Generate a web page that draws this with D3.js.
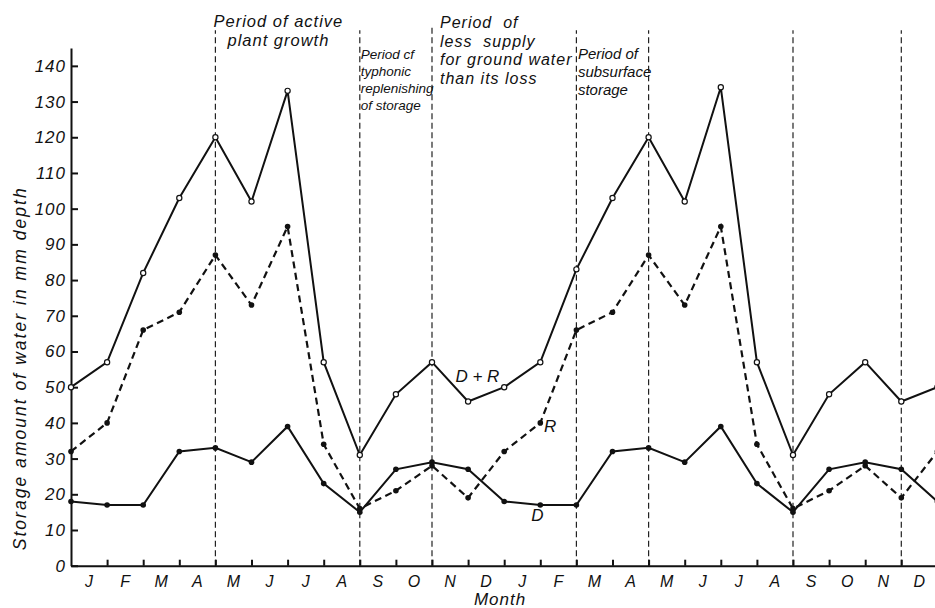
<!DOCTYPE html>
<html>
<head>
<meta charset="utf-8">
<script src="https://cdn.jsdelivr.net/npm/d3@7"></script>
<style>
  html, body { margin: 0; padding: 0; background: #fff; }
  svg { display: block; }
  text { font-family: "Liberation Sans", Arial, sans-serif; font-style: italic; fill: #111; }
  .axis path, .axis line { stroke: #111; stroke-width: 2; }
</style>
</head>
<body>
<div id="chart"></div>
<script>
"use strict";

// month labels, two years (J..D twice)
const months = ["J", "F", "M", "A", "M", "J", "J", "A", "S", "O", "N", "D",
  "J", "F", "M", "A", "M", "J", "J", "A", "S", "O", "N", "D"];

// values at month boundaries, mm depth
const totalDR = [50, 57, 82, 103, 120, 102, 133, 57, 31, 48, 57, 46, 50,
  57, 83, 103, 120, 102, 134, 57, 31, 48, 57, 46, 50];
const seriesR = [32, 40, 66, 71, 87, 73, 95, 34, 16, 21, 28, 19, 32,
  40, 66, 71, 87, 73, 95, 34, 16, 21, 28, 19, 32];
const seriesD = [18, 17, 17, 32, 33, 29, 39, 23, 15, 27, 29, 27, 18,
  17, 17, 32, 33, 29, 39, 23, 15, 27, 29, 27, 18];

const yTicks = [0, 10, 20, 30, 40, 50, 60, 70, 80, 90, 100, 110, 120, 130, 140];

// period boundaries (month index)
const boundaries = [4, 8, 10, 14, 16, 20, 23];

const periodNotes = [
  ["Period of active", "plant growth"],
  ["Period cf", "typhonic", "replenishing", "of storage"],
  ["Period  of", "less  supply", "for ground water", "than its loss"],
  ["Period of", "subsurface", "storage"]
];

const width = 935;
const height = 608;

const svg = d3.select("#chart")
  .append("svg")
  .attr("width", width)
  .attr("height", height)
;

const x = d3.scaleLinear()
  .domain([0, 24])
  .range([71, 937.4])
;
const y = d3.scaleLinear()
  .domain([0, 145])
  .range([565.7, 48])
;

// vertical dashed period lines
svg.append("g")
  .selectAll("line")
  .data(boundaries)
  .enter()
  .append("line")
  .attr("x1", d => x(d))
  .attr("x2", d => x(d))
  .attr("y1", y(0))
  .attr("y2", (d, i) => i === 2 ? y(151) : y(150))
  .attr("stroke", "#222")
  .attr("stroke-width", 1.2)
  .attr("stroke-dasharray", "6,3.5")
;

// axes
const yAxis = d3.axisLeft(y)
  .tickValues(yTicks)
  .tickSizeInner(-7)
  .tickSizeOuter(0)
  .tickPadding(5)
;
const xAxis = d3.axisBottom(x)
  .tickValues(d3.range(1, 25))
  .tickSizeInner(-6)
  .tickSizeOuter(0)
  .tickFormat("")
;

svg.append("g")
  .attr("class", "axis")
  .attr("transform", `translate(${x(0)}, 0)`)
  .call(yAxis)
  .call(g => g.selectAll("text")
    .style("font-size", "17px")
    .style("font-family", "\"Liberation Sans\", Arial, sans-serif")
    .style("font-style", "italic")
    .attr("letter-spacing", 1)
    .attr("fill", "#111"))
  .call(g => g.selectAll(".tick line").attr("stroke-width", 1.3))
;

svg.append("g")
  .attr("class", "axis")
  .attr("transform", `translate(0, ${y(0)})`)
  .call(xAxis)
  .call(g => g.selectAll(".tick line").attr("stroke-width", 1.3))
;

// month labels between ticks
svg.append("g")
  .selectAll("text")
  .data(months)
  .enter()
  .append("text")
  .attr("x", (d, i) => x(i + 0.5))
  .attr("y", 587)
  .attr("text-anchor", "middle")
  .style("font-size", "16px")
  .text(d => d)
;

svg.append("text")
  .attr("x", 500)
  .attr("y", 605)
  .attr("text-anchor", "middle")
  .style("font-size", "17px")
  .attr("letter-spacing", 1)
  .text("Month")
;

svg.append("text")
  .attr("transform", `translate(26, ${y(55)}) rotate(-90)`)
  .attr("text-anchor", "middle")
  .attr("textLength", 362)
  .attr("lengthAdjust", "spacing")
  .style("font-size", "17.5px")
  .text("Storage  amount of water  in  mm  depth")
;

// series lines
const line = d3.line()
  .x((d, i) => x(i))
  .y(d => y(d))
;

svg.append("path")
  .datum(totalDR)
  .attr("d", line)
  .attr("fill", "none")
  .attr("stroke", "#111")
  .attr("stroke-width", 2)
;
svg.append("path")
  .datum(seriesD)
  .attr("d", line)
  .attr("fill", "none")
  .attr("stroke", "#111")
  .attr("stroke-width", 2)
;
svg.append("path")
  .datum(seriesR)
  .attr("d", line)
  .attr("fill", "none")
  .attr("stroke", "#111")
  .attr("stroke-width", 2.2)
  .attr("stroke-dasharray", "7,4.5")
;

// markers
svg.append("g")
  .selectAll("circle")
  .data(totalDR)
  .enter()
  .append("circle")
  .attr("cx", (d, i) => x(i))
  .attr("cy", d => y(d))
  .attr("r", 2.6)
  .attr("fill", "#fff")
  .attr("stroke", "#111")
  .attr("stroke-width", 1.2)
;
[seriesR, seriesD].forEach(series => {
  svg.append("g")
    .selectAll("circle")
    .data(series)
    .enter()
    .append("circle")
    .attr("cx", (d, i) => x(i))
    .attr("cy", d => y(d))
    .attr("r", 2.8)
    .attr("fill", "#111")
  ;
});

// series labels
svg.append("text")
  .attr("x", x(10.65))
  .attr("y", y(51.4))
  .style("font-size", "17px")
  .text("D + R")
;
svg.append("text")
  .attr("x", x(13.1))
  .attr("y", y(37.4))
  .style("font-size", "17px")
  .text("R")
;
svg.append("text")
  .attr("x", x(12.75))
  .attr("y", y(12.5))
  .style("font-size", "17px")
  .text("D")
;

// period annotations
const noteGroup = svg.append("g");

noteGroup.selectAll("text.n0")
  .data(periodNotes[0])
  .enter()
  .append("text")
  .attr("x", x(boundaries[0]) + 63)
  .attr("y", (d, i) => 27 + i * 19)
  .attr("text-anchor", "middle")
  .attr("letter-spacing", 1)
  .style("font-size", "16.5px")
  .text(d => d)
;
noteGroup.selectAll("text.n1")
  .data(periodNotes[1])
  .enter()
  .append("text")
  .attr("x", x(boundaries[1]) + 1)
  .attr("y", (d, i) => 59 + i * 17)
  .style("font-size", "13.5px")
  .text(d => d)
;
noteGroup.selectAll("text.n2")
  .data(periodNotes[2])
  .enter()
  .append("text")
  .attr("x", x(boundaries[2]) + 8)
  .attr("y", (d, i) => 28 + i * 18.5)
  .attr("letter-spacing", 1)
  .style("white-space", "pre")
  .style("font-size", "16px")
  .text(d => d)
;
noteGroup.selectAll("text.n3")
  .data(periodNotes[3])
  .enter()
  .append("text")
  .attr("x", x(boundaries[3]) + 1.5)
  .attr("y", (d, i) => 59 + i * 18)
  .style("font-size", "15px")
  .text(d => d)
;
</script>
</body>
</html>
